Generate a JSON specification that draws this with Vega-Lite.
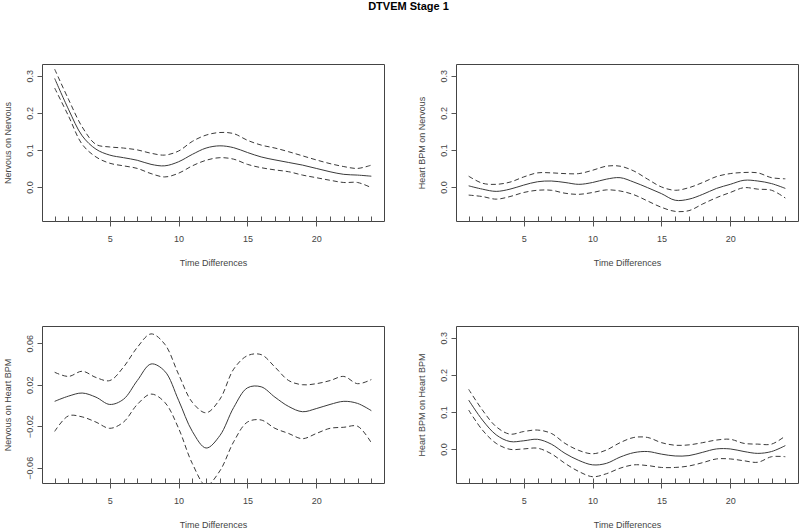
{
"$schema": "https://vega.github.io/schema/vega-lite/v6.json",
"padding": {"left": 2, "top": 0, "right": 0, "bottom": 0},
"background": "white",
"title": {"text": "DTVEM Stage 1", "anchor": "middle", "font": "Liberation Sans", "fontSize": 11, "fontWeight": "bold", "color": "#000", "offset": 52, "dx": 8},
"datasets": {
"curves": [
{"panel":1,"series":"est","time":1,"value":0.293},{"panel":1,"series":"est","time":2,"value":0.21},{"panel":1,"series":"est","time":3,"value":0.138},{"panel":1,"series":"est","time":4,"value":0.102},{"panel":1,"series":"est","time":5,"value":0.086},{"panel":1,"series":"est","time":6,"value":0.079},{"panel":1,"series":"est","time":7,"value":0.072},{"panel":1,"series":"est","time":8,"value":0.061},{"panel":1,"series":"est","time":9,"value":0.057},{"panel":1,"series":"est","time":10,"value":0.068},{"panel":1,"series":"est","time":11,"value":0.088},{"panel":1,"series":"est","time":12,"value":0.105},{"panel":1,"series":"est","time":13,"value":0.111},{"panel":1,"series":"est","time":14,"value":0.106},{"panel":1,"series":"est","time":15,"value":0.093},{"panel":1,"series":"est","time":16,"value":0.081},{"panel":1,"series":"est","time":17,"value":0.073},{"panel":1,"series":"est","time":18,"value":0.066},{"panel":1,"series":"est","time":19,"value":0.059},{"panel":1,"series":"est","time":20,"value":0.05},{"panel":1,"series":"est","time":21,"value":0.041},{"panel":1,"series":"est","time":22,"value":0.034},{"panel":1,"series":"est","time":23,"value":0.032},{"panel":1,"series":"est","time":24,"value":0.029},
{"panel":1,"series":"upper","time":1,"value":0.318},{"panel":1,"series":"upper","time":2,"value":0.237},{"panel":1,"series":"upper","time":3,"value":0.162},{"panel":1,"series":"upper","time":4,"value":0.115},{"panel":1,"series":"upper","time":5,"value":0.108},{"panel":1,"series":"upper","time":6,"value":0.105},{"panel":1,"series":"upper","time":7,"value":0.1},{"panel":1,"series":"upper","time":8,"value":0.091},{"panel":1,"series":"upper","time":9,"value":0.086},{"panel":1,"series":"upper","time":10,"value":0.097},{"panel":1,"series":"upper","time":11,"value":0.123},{"panel":1,"series":"upper","time":12,"value":0.14},{"panel":1,"series":"upper","time":13,"value":0.147},{"panel":1,"series":"upper","time":14,"value":0.144},{"panel":1,"series":"upper","time":15,"value":0.126},{"panel":1,"series":"upper","time":16,"value":0.113},{"panel":1,"series":"upper","time":17,"value":0.105},{"panel":1,"series":"upper","time":18,"value":0.095},{"panel":1,"series":"upper","time":19,"value":0.084},{"panel":1,"series":"upper","time":20,"value":0.073},{"panel":1,"series":"upper","time":21,"value":0.063},{"panel":1,"series":"upper","time":22,"value":0.055},{"panel":1,"series":"upper","time":23,"value":0.05},{"panel":1,"series":"upper","time":24,"value":0.059},
{"panel":1,"series":"lower","time":1,"value":0.267},{"panel":1,"series":"lower","time":2,"value":0.192},{"panel":1,"series":"lower","time":3,"value":0.115},{"panel":1,"series":"lower","time":4,"value":0.081},{"panel":1,"series":"lower","time":5,"value":0.064},{"panel":1,"series":"lower","time":6,"value":0.057},{"panel":1,"series":"lower","time":7,"value":0.05},{"panel":1,"series":"lower","time":8,"value":0.036},{"panel":1,"series":"lower","time":9,"value":0.027},{"panel":1,"series":"lower","time":10,"value":0.037},{"panel":1,"series":"lower","time":11,"value":0.057},{"panel":1,"series":"lower","time":12,"value":0.072},{"panel":1,"series":"lower","time":13,"value":0.079},{"panel":1,"series":"lower","time":14,"value":0.075},{"panel":1,"series":"lower","time":15,"value":0.061},{"panel":1,"series":"lower","time":16,"value":0.052},{"panel":1,"series":"lower","time":17,"value":0.046},{"panel":1,"series":"lower","time":18,"value":0.041},{"panel":1,"series":"lower","time":19,"value":0.032},{"panel":1,"series":"lower","time":20,"value":0.025},{"panel":1,"series":"lower","time":21,"value":0.018},{"panel":1,"series":"lower","time":22,"value":0.012},{"panel":1,"series":"lower","time":23,"value":0.012},{"panel":1,"series":"lower","time":24,"value":-0.002},
{"panel":2,"series":"est","time":1,"value":0.003},{"panel":2,"series":"est","time":2,"value":-0.006},{"panel":2,"series":"est","time":3,"value":-0.012},{"panel":2,"series":"est","time":4,"value":-0.006},{"panel":2,"series":"est","time":5,"value":0.005},{"panel":2,"series":"est","time":6,"value":0.014},{"panel":2,"series":"est","time":7,"value":0.016},{"panel":2,"series":"est","time":8,"value":0.012},{"panel":2,"series":"est","time":9,"value":0.007},{"panel":2,"series":"est","time":10,"value":0.012},{"panel":2,"series":"est","time":11,"value":0.021},{"panel":2,"series":"est","time":12,"value":0.025},{"panel":2,"series":"est","time":13,"value":0.013},{"panel":2,"series":"est","time":14,"value":-0.002},{"panel":2,"series":"est","time":15,"value":-0.018},{"panel":2,"series":"est","time":16,"value":-0.036},{"panel":2,"series":"est","time":17,"value":-0.033},{"panel":2,"series":"est","time":18,"value":-0.02},{"panel":2,"series":"est","time":19,"value":-0.004},{"panel":2,"series":"est","time":20,"value":0.007},{"panel":2,"series":"est","time":21,"value":0.018},{"panel":2,"series":"est","time":22,"value":0.016},{"panel":2,"series":"est","time":23,"value":0.009},{"panel":2,"series":"est","time":24,"value":-0.004},
{"panel":2,"series":"upper","time":1,"value":0.029},{"panel":2,"series":"upper","time":2,"value":0.01},{"panel":2,"series":"upper","time":3,"value":0.007},{"panel":2,"series":"upper","time":4,"value":0.013},{"panel":2,"series":"upper","time":5,"value":0.027},{"panel":2,"series":"upper","time":6,"value":0.038},{"panel":2,"series":"upper","time":7,"value":0.038},{"panel":2,"series":"upper","time":8,"value":0.036},{"panel":2,"series":"upper","time":9,"value":0.036},{"panel":2,"series":"upper","time":10,"value":0.045},{"panel":2,"series":"upper","time":11,"value":0.056},{"panel":2,"series":"upper","time":12,"value":0.056},{"panel":2,"series":"upper","time":13,"value":0.043},{"panel":2,"series":"upper","time":14,"value":0.021},{"panel":2,"series":"upper","time":15,"value":0.0},{"panel":2,"series":"upper","time":16,"value":-0.009},{"panel":2,"series":"upper","time":17,"value":-0.002},{"panel":2,"series":"upper","time":18,"value":0.012},{"panel":2,"series":"upper","time":19,"value":0.028},{"panel":2,"series":"upper","time":20,"value":0.036},{"panel":2,"series":"upper","time":21,"value":0.039},{"panel":2,"series":"upper","time":22,"value":0.038},{"panel":2,"series":"upper","time":23,"value":0.025},{"panel":2,"series":"upper","time":24,"value":0.022},
{"panel":2,"series":"lower","time":1,"value":-0.022},{"panel":2,"series":"lower","time":2,"value":-0.026},{"panel":2,"series":"lower","time":3,"value":-0.033},{"panel":2,"series":"lower","time":4,"value":-0.026},{"panel":2,"series":"lower","time":5,"value":-0.015},{"panel":2,"series":"lower","time":6,"value":-0.009},{"panel":2,"series":"lower","time":7,"value":-0.009},{"panel":2,"series":"lower","time":8,"value":-0.017},{"panel":2,"series":"lower","time":9,"value":-0.02},{"panel":2,"series":"lower","time":10,"value":-0.015},{"panel":2,"series":"lower","time":11,"value":-0.008},{"panel":2,"series":"lower","time":12,"value":-0.011},{"panel":2,"series":"lower","time":13,"value":-0.021},{"panel":2,"series":"lower","time":14,"value":-0.038},{"panel":2,"series":"lower","time":15,"value":-0.055},{"panel":2,"series":"lower","time":16,"value":-0.066},{"panel":2,"series":"lower","time":17,"value":-0.064},{"panel":2,"series":"lower","time":18,"value":-0.046},{"panel":2,"series":"lower","time":19,"value":-0.029},{"panel":2,"series":"lower","time":20,"value":-0.015},{"panel":2,"series":"lower","time":21,"value":-0.002},{"panel":2,"series":"lower","time":22,"value":-0.006},{"panel":2,"series":"lower","time":23,"value":-0.009},{"panel":2,"series":"lower","time":24,"value":-0.03},
{"panel":3,"series":"est","time":1,"value":0.004},{"panel":3,"series":"est","time":2,"value":0.009},{"panel":3,"series":"est","time":3,"value":0.012},{"panel":3,"series":"est","time":4,"value":0.008},{"panel":3,"series":"est","time":5,"value":0.001},{"panel":3,"series":"est","time":6,"value":0.006},{"panel":3,"series":"est","time":7,"value":0.024},{"panel":3,"series":"est","time":8,"value":0.04},{"panel":3,"series":"est","time":9,"value":0.033},{"panel":3,"series":"est","time":10,"value":0.005},{"panel":3,"series":"est","time":11,"value":-0.025},{"panel":3,"series":"est","time":12,"value":-0.041},{"panel":3,"series":"est","time":13,"value":-0.029},{"panel":3,"series":"est","time":14,"value":-0.002},{"panel":3,"series":"est","time":15,"value":0.017},{"panel":3,"series":"est","time":16,"value":0.018},{"panel":3,"series":"est","time":17,"value":0.008},{"panel":3,"series":"est","time":18,"value":-0.001},{"panel":3,"series":"est","time":19,"value":-0.006},{"panel":3,"series":"est","time":20,"value":-0.003},{"panel":3,"series":"est","time":21,"value":0.001},{"panel":3,"series":"est","time":22,"value":0.004},{"panel":3,"series":"est","time":23,"value":0.002},{"panel":3,"series":"est","time":24,"value":-0.005},
{"panel":3,"series":"upper","time":1,"value":0.032},{"panel":3,"series":"upper","time":2,"value":0.028},{"panel":3,"series":"upper","time":3,"value":0.033},{"panel":3,"series":"upper","time":4,"value":0.027},{"panel":3,"series":"upper","time":5,"value":0.024},{"panel":3,"series":"upper","time":6,"value":0.037},{"panel":3,"series":"upper","time":7,"value":0.056},{"panel":3,"series":"upper","time":8,"value":0.069},{"panel":3,"series":"upper","time":9,"value":0.059},{"panel":3,"series":"upper","time":10,"value":0.03},{"panel":3,"series":"upper","time":11,"value":0.003},{"panel":3,"series":"upper","time":12,"value":-0.007},{"panel":3,"series":"upper","time":13,"value":0.006},{"panel":3,"series":"upper","time":14,"value":0.035},{"panel":3,"series":"upper","time":15,"value":0.048},{"panel":3,"series":"upper","time":16,"value":0.049},{"panel":3,"series":"upper","time":17,"value":0.037},{"panel":3,"series":"upper","time":18,"value":0.024},{"panel":3,"series":"upper","time":19,"value":0.02},{"panel":3,"series":"upper","time":20,"value":0.021},{"panel":3,"series":"upper","time":21,"value":0.024},{"panel":3,"series":"upper","time":22,"value":0.028},{"panel":3,"series":"upper","time":23,"value":0.021},{"panel":3,"series":"upper","time":24,"value":0.025},
{"panel":3,"series":"lower","time":1,"value":-0.025},{"panel":3,"series":"lower","time":2,"value":-0.01},{"panel":3,"series":"lower","time":3,"value":-0.011},{"panel":3,"series":"lower","time":4,"value":-0.016},{"panel":3,"series":"lower","time":5,"value":-0.022},{"panel":3,"series":"lower","time":6,"value":-0.016},{"panel":3,"series":"lower","time":7,"value":0.001},{"panel":3,"series":"lower","time":8,"value":0.011},{"panel":3,"series":"lower","time":9,"value":0.003},{"panel":3,"series":"lower","time":10,"value":-0.022},{"panel":3,"series":"lower","time":11,"value":-0.056},{"panel":3,"series":"lower","time":12,"value":-0.077},{"panel":3,"series":"lower","time":13,"value":-0.063},{"panel":3,"series":"lower","time":14,"value":-0.035},{"panel":3,"series":"lower","time":15,"value":-0.016},{"panel":3,"series":"lower","time":16,"value":-0.014},{"panel":3,"series":"lower","time":17,"value":-0.022},{"panel":3,"series":"lower","time":18,"value":-0.027},{"panel":3,"series":"lower","time":19,"value":-0.032},{"panel":3,"series":"lower","time":20,"value":-0.027},{"panel":3,"series":"lower","time":21,"value":-0.022},{"panel":3,"series":"lower","time":22,"value":-0.021},{"panel":3,"series":"lower","time":23,"value":-0.02},{"panel":3,"series":"lower","time":24,"value":-0.036},
{"panel":4,"series":"est","time":1,"value":0.132},{"panel":4,"series":"est","time":2,"value":0.078},{"panel":4,"series":"est","time":3,"value":0.038},{"panel":4,"series":"est","time":4,"value":0.02},{"panel":4,"series":"est","time":5,"value":0.022},{"panel":4,"series":"est","time":6,"value":0.026},{"panel":4,"series":"est","time":7,"value":0.013},{"panel":4,"series":"est","time":8,"value":-0.012},{"panel":4,"series":"est","time":9,"value":-0.031},{"panel":4,"series":"est","time":10,"value":-0.043},{"panel":4,"series":"est","time":11,"value":-0.039},{"panel":4,"series":"est","time":12,"value":-0.022},{"panel":4,"series":"est","time":13,"value":-0.01},{"panel":4,"series":"est","time":14,"value":-0.007},{"panel":4,"series":"est","time":15,"value":-0.014},{"panel":4,"series":"est","time":16,"value":-0.019},{"panel":4,"series":"est","time":17,"value":-0.018},{"panel":4,"series":"est","time":18,"value":-0.009},{"panel":4,"series":"est","time":19,"value":0.0},{"panel":4,"series":"est","time":20,"value":0.0},{"panel":4,"series":"est","time":21,"value":-0.007},{"panel":4,"series":"est","time":22,"value":-0.012},{"panel":4,"series":"est","time":23,"value":-0.007},{"panel":4,"series":"est","time":24,"value":0.009},
{"panel":4,"series":"upper","time":1,"value":0.161},{"panel":4,"series":"upper","time":2,"value":0.105},{"panel":4,"series":"upper","time":3,"value":0.06},{"panel":4,"series":"upper","time":4,"value":0.04},{"panel":4,"series":"upper","time":5,"value":0.047},{"panel":4,"series":"upper","time":6,"value":0.051},{"panel":4,"series":"upper","time":7,"value":0.042},{"panel":4,"series":"upper","time":8,"value":0.015},{"panel":4,"series":"upper","time":9,"value":-0.004},{"panel":4,"series":"upper","time":10,"value":-0.013},{"panel":4,"series":"upper","time":11,"value":-0.003},{"panel":4,"series":"upper","time":12,"value":0.017},{"panel":4,"series":"upper","time":13,"value":0.031},{"panel":4,"series":"upper","time":14,"value":0.031},{"panel":4,"series":"upper","time":15,"value":0.017},{"panel":4,"series":"upper","time":16,"value":0.01},{"panel":4,"series":"upper","time":17,"value":0.011},{"panel":4,"series":"upper","time":18,"value":0.017},{"panel":4,"series":"upper","time":19,"value":0.024},{"panel":4,"series":"upper","time":20,"value":0.026},{"panel":4,"series":"upper","time":21,"value":0.015},{"panel":4,"series":"upper","time":22,"value":0.013},{"panel":4,"series":"upper","time":23,"value":0.013},{"panel":4,"series":"upper","time":24,"value":0.035},
{"panel":4,"series":"lower","time":1,"value":0.105},{"panel":4,"series":"lower","time":2,"value":0.051},{"panel":4,"series":"lower","time":3,"value":0.015},{"panel":4,"series":"lower","time":4,"value":-0.001},{"panel":4,"series":"lower","time":5,"value":0.0},{"panel":4,"series":"lower","time":6,"value":0.002},{"panel":4,"series":"lower","time":7,"value":-0.013},{"panel":4,"series":"lower","time":8,"value":-0.039},{"panel":4,"series":"lower","time":9,"value":-0.061},{"panel":4,"series":"lower","time":10,"value":-0.075},{"panel":4,"series":"lower","time":11,"value":-0.067},{"panel":4,"series":"lower","time":12,"value":-0.052},{"panel":4,"series":"lower","time":13,"value":-0.043},{"panel":4,"series":"lower","time":14,"value":-0.045},{"panel":4,"series":"lower","time":15,"value":-0.05},{"panel":4,"series":"lower","time":16,"value":-0.05},{"panel":4,"series":"lower","time":17,"value":-0.046},{"panel":4,"series":"lower","time":18,"value":-0.037},{"panel":4,"series":"lower","time":19,"value":-0.027},{"panel":4,"series":"lower","time":20,"value":-0.027},{"panel":4,"series":"lower","time":21,"value":-0.032},{"panel":4,"series":"lower","time":22,"value":-0.036},{"panel":4,"series":"lower","time":23,"value":-0.021},{"panel":4,"series":"lower","time":24,"value":-0.021}
]
},
"data": {"name": "curves"},
"columns": 2,
"bounds": "flush",
"spacing": {"row": 105, "column": 72},
"concat": [
{
"width": 342, "height": 157,
"transform": [{"filter": "datum.panel == 1"}],
"encoding": {
  "x": {"field": "time", "type": "quantitative", "scale": {"domain": [0.08, 24.92], "nice": false, "zero": false}, "title": "Time Differences",
        "axis": {"labelOverlap": false, "values": [1,2,3,4,5,6,7,8,9,10,11,12,13,14,15,16,17,18,19,20,21,22,23,24]}},
  "y": {"field": "value", "type": "quantitative", "scale": {"domain": [-0.092, 0.332], "nice": false, "zero": false},
        "axis": {"values": [0, 0.1, 0.2, 0.3], "format": ".1f"}, "title": "Nervous on Nervous"}
},
"layer": [
{"transform": [{"filter": "datum.series == 'est'"}],
 "mark": {"type": "line", "interpolate": "catmull-rom", "clip": true, "color": "#3a3a3a", "strokeWidth": 1}},
{"transform": [{"filter": "datum.series != 'est'"}],
 "mark": {"type": "line", "interpolate": "catmull-rom", "clip": true, "color": "#3a3a3a", "strokeWidth": 1, "strokeDash": [5, 3]},
 "encoding": {"detail": {"field": "series"}}}
]
},
{
"width": 342, "height": 157,
"transform": [{"filter": "datum.panel == 2"}],
"encoding": {
  "x": {"field": "time", "type": "quantitative", "scale": {"domain": [0.08, 24.92], "nice": false, "zero": false}, "title": "Time Differences",
        "axis": {"labelOverlap": false, "values": [1,2,3,4,5,6,7,8,9,10,11,12,13,14,15,16,17,18,19,20,21,22,23,24]}},
  "y": {"field": "value", "type": "quantitative", "scale": {"domain": [-0.092, 0.332], "nice": false, "zero": false},
        "axis": {"values": [0, 0.1, 0.2, 0.3], "format": ".1f"}, "title": "Heart BPM on Nervous"}
},
"layer": [
{"transform": [{"filter": "datum.series == 'est'"}],
 "mark": {"type": "line", "interpolate": "catmull-rom", "clip": true, "color": "#3a3a3a", "strokeWidth": 1}},
{"transform": [{"filter": "datum.series != 'est'"}],
 "mark": {"type": "line", "interpolate": "catmull-rom", "clip": true, "color": "#3a3a3a", "strokeWidth": 1, "strokeDash": [5, 3]},
 "encoding": {"detail": {"field": "series"}}}
]
},
{
"width": 342, "height": 157,
"transform": [{"filter": "datum.panel == 3"}],
"encoding": {
  "x": {"field": "time", "type": "quantitative", "scale": {"domain": [0.08, 24.92], "nice": false, "zero": false}, "title": "Time Differences",
        "axis": {"labelOverlap": false, "values": [1,2,3,4,5,6,7,8,9,10,11,12,13,14,15,16,17,18,19,20,21,22,23,24]}},
  "y": {"field": "value", "type": "quantitative", "scale": {"domain": [-0.0747, 0.0766], "nice": false, "zero": false},
        "axis": {"values": [-0.06, -0.02, 0.02, 0.06], "format": ".2f"}, "title": "Nervous on Heart BPM"}
},
"layer": [
{"transform": [{"filter": "datum.series == 'est'"}],
 "mark": {"type": "line", "interpolate": "catmull-rom", "clip": true, "color": "#3a3a3a", "strokeWidth": 1}},
{"transform": [{"filter": "datum.series != 'est'"}],
 "mark": {"type": "line", "interpolate": "catmull-rom", "clip": true, "color": "#3a3a3a", "strokeWidth": 1, "strokeDash": [5, 3]},
 "encoding": {"detail": {"field": "series"}}}
]
},
{
"width": 342, "height": 157,
"transform": [{"filter": "datum.panel == 4"}],
"encoding": {
  "x": {"field": "time", "type": "quantitative", "scale": {"domain": [0.08, 24.92], "nice": false, "zero": false}, "title": "Time Differences",
        "axis": {"labelOverlap": false, "values": [1,2,3,4,5,6,7,8,9,10,11,12,13,14,15,16,17,18,19,20,21,22,23,24]}},
  "y": {"field": "value", "type": "quantitative", "scale": {"domain": [-0.092, 0.332], "nice": false, "zero": false},
        "axis": {"values": [0, 0.1, 0.2, 0.3], "format": ".1f"}, "title": "Heart BPM on Heart BPM"}
},
"layer": [
{"transform": [{"filter": "datum.series == 'est'"}],
 "mark": {"type": "line", "interpolate": "catmull-rom", "clip": true, "color": "#3a3a3a", "strokeWidth": 1}},
{"transform": [{"filter": "datum.series != 'est'"}],
 "mark": {"type": "line", "interpolate": "catmull-rom", "clip": true, "color": "#3a3a3a", "strokeWidth": 1, "strokeDash": [5, 3]},
 "encoding": {"detail": {"field": "series"}}}
]
}
],
"config": {
 "view": {"stroke": "#444", "strokeWidth": 1},
 "axis": {"grid": false, "domain": false, "labelFont": "Liberation Sans", "labelFontSize": 9, "labelColor": "#444",
          "titleFont": "Liberation Sans", "titleFontSize": 9, "titleFontWeight": "normal", "titleColor": "#444",
          "tickColor": "#555", "tickWidth": 1},
 "axisX": {"labelExpr": "abs(datum.value - 5 * round(datum.value / 5)) < 0.01 ? datum.label : ''",
           "offset": -5, "tickSize": 10,
           "tickDash": {"condition": {"test": "abs(datum.value - 5 * round(datum.value / 5)) >= 0.01", "value": [5, 5]}, "value": []},
           "labelPadding": 8, "titlePadding": 15, "labelFlush": false},
 "axisY": {"tickSize": 5, "labelAngle": 270, "labelAlign": "center", "labelBaseline": "bottom", "labelPadding": 3, "titlePadding": 13, "labelFlush": false}
}
}
